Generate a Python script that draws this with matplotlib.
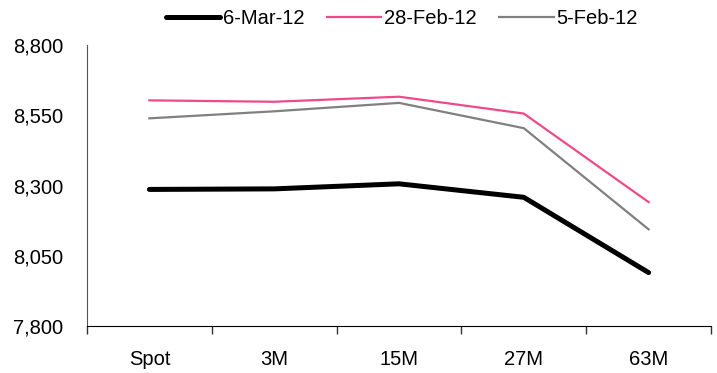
import matplotlib
matplotlib.use("Agg")
import matplotlib.pyplot as plt
from matplotlib.ticker import FixedLocator, FuncFormatter

tenors = ["Spot", "3M", "15M", "27M", "63M"]
mar06 = [8286, 8288, 8306, 8258, 7990]
feb28 = [8603, 8598, 8616, 8556, 8241]
feb05 = [8539, 8564, 8594, 8504, 8144]
yticks = [7800, 8050, 8300, 8550, 8800]

plt.rcParams["font.family"] = ["Liberation Sans", "DejaVu Sans"]
fs = 14.5

fig = plt.figure(figsize=(7.17, 3.73), dpi=100)
ax = fig.add_axes([87 / 717, 1 - 326 / 373, (711 - 87) / 717, (326 - 45) / 373])

x = list(range(len(tenors)))
ax.plot(x, mar06, color="black", lw=3.6, label="6-Mar-12", solid_capstyle="round")
ax.plot(x, feb28, color="#EE4A8A", lw=1.6, label="28-Feb-12")
ax.plot(x, feb05, color="#808080", lw=1.6, label="5-Feb-12")

ax.set_xlim(-0.5, len(tenors) - 0.5)
ax.set_ylim(yticks[0], yticks[-1])

ax.spines["top"].set_visible(False)
ax.spines["right"].set_visible(False)
ax.spines["left"].set_color("#555555")
ax.spines["bottom"].set_color("black")

ax.xaxis.set_major_locator(FixedLocator([i - 0.5 for i in range(len(tenors) + 1)]))
ax.xaxis.set_major_formatter(FuncFormatter(lambda v, p: ""))
ax.xaxis.set_minor_locator(FixedLocator(x))
ax.set_xticklabels(tenors, minor=True)
ax.tick_params(axis="x", which="major", direction="out", length=6, width=1, color="#333333")
ax.tick_params(axis="x", which="minor", length=0, pad=17, labelsize=fs)

ax.set_yticks(yticks)
ax.yaxis.set_major_formatter(FuncFormatter(lambda v, p: f"{int(v):,}"))
ax.tick_params(axis="y", length=0, pad=17, labelsize=fs)

fig.legend(loc="center", bbox_to_anchor=(402 / 717, 1 - 19 / 373), ncol=3, frameon=False,
           fontsize=fs, handlelength=2.7, handletextpad=0.15, columnspacing=1.1)

fig.savefig("out.png", dpi=100)
